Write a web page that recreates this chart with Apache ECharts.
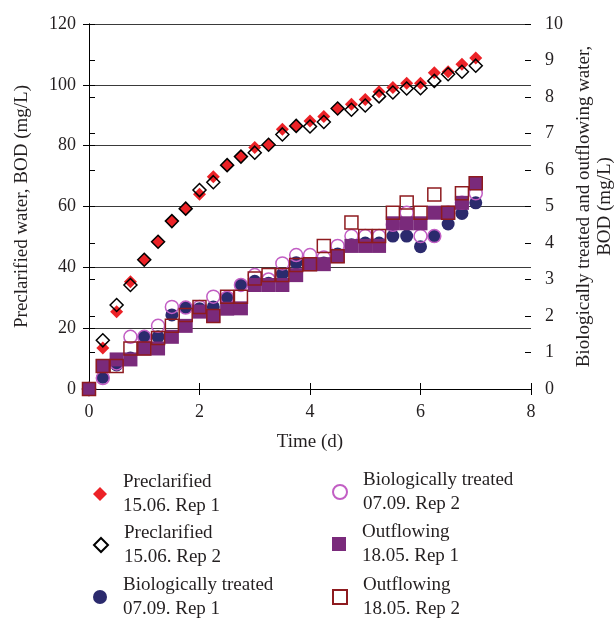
<!DOCTYPE html>
<html>
<head>
<meta charset="utf-8">
<title>BOD</title>
<script src="https://cdn.jsdelivr.net/npm/echarts@6/dist/echarts.min.js"></script>
<style>
	html,body{margin:0;padding:0;background:#fff;}
	#main{width:616px;height:619px;}
</style>
</head>
<body>
<div id="main"></div>
<script>
// time points (d)
var days = [0, 0.25, 0.5, 0.75, 1, 1.25, 1.5, 1.75, 2, 2.25, 2.5, 2.75, 3, 3.25, 3.5, 3.75, 4, 4.25, 4.5, 4.75, 5, 5.25, 5.5, 5.75, 6, 6.25, 6.5, 6.75, 7];

// preclarified water, left axis (mg/L)
var preRep1 = [0, 13.5, 25.4, 35.3, 42.5, 48.4, 55.2, 59.3, 64, 69.8, 73.6, 76.4, 79.4, 80.3, 85.4, 86.5, 88.1, 89.6, 92.2, 93.6, 95.2, 97.7, 99.1, 100.5, 100.5, 104, 104.3, 106.8, 108.8];
var preRep2 = [0, 16, 27.6, 34.2, 42.5, 48.4, 55.2, 59.3, 65.4, 68, 73.6, 76.4, 77.7, 80.3, 83.7, 86.5, 86.3, 87.8, 92.2, 91.8, 93.2, 96.2, 97.5, 98.8, 98.9, 101.3, 103.5, 104.3, 106.3];

// biologically treated and outflowing water, right axis (mg/L)
var bioRep1 = [0, 0.32, 0.66, 0.85, 1.43, 1.43, 2.03, 2.23, 2.2, 2.25, 2.5, 2.85, 2.95, 2.9, 3.15, 3.46, 3.42, 3.45, 3.7, 3.95, 4.0, 4.0, 4.19, 4.19, 3.9, 4.19, 4.52, 4.81, 5.1];
var bioRep2 = [0, 0.3, 0.7, 1.43, 1.43, 1.73, 2.25, 2.23, 2.25, 2.53, 2.5, 2.85, 3.12, 3.0, 3.44, 3.67, 3.67, 3.6, 3.92, 4.19, 4.19, 4.19, 4.5, 4.83, 4.19, 4.19, 4.83, 5.1, 5.36];
var outRep1 = [0, 0.63, 0.81, 0.81, 1.11, 1.11, 1.43, 1.73, 2.12, 2.0, 2.2, 2.21, 2.85, 2.85, 2.85, 3.12, 3.42, 3.42, 3.64, 3.92, 3.92, 3.92, 4.54, 4.54, 4.54, 4.83, 4.83, 5.1, 5.64];
var outRep2 = [0, 0.63, 0.63, 1.11, 1.11, 1.4, 1.73, 2.03, 2.25, 2.0, 2.53, 2.53, 3.03, 3.12, 3.12, 3.4, 3.42, 3.92, 3.64, 4.56, 4.19, 4.19, 4.83, 5.11, 4.83, 5.33, 4.83, 5.36, 5.64];

// legend names
var names = ['Preclarified 15.06. Rep 1', 'Preclarified 15.06. Rep 2', 'Biologically treated 07.09. Rep 1',
	'Biologically treated 07.09. Rep 2', 'Outflowing 18.05. Rep 1', 'Outflowing 18.05. Rep 2'];

var FONT = 'Liberation Serif';
var TXT = '#231f20';

function pairs(vals){
	var out = [];
	for (var i = 0; i < days.length; i++) {
		out.push([days[i], vals[i]]);
	}
	return out;
}

function legendAt(name, left, top){
	return {
		data: [name],
		left: left,
		top: top,
		itemWidth: 14,
		itemHeight: 14,
		selectedMode: false,
		formatter: function(n){ return n.replace(/ (\d\d\.\d\d\.)/, '\n$1'); },
		textStyle: {fontFamily: FONT, fontSize: 19, color: TXT, lineHeight: 24, padding: [0, 0, 0, 11]}
	};
}

function e_chart(){
	var myChart = echarts.init(document.getElementById('main'));
	var tickStyle = {color: '#000', width: 1};
	var option = {
		animation: false,
		backgroundColor: '#fff',
		grid: {left: 89, right: 85, top: 24, bottom: 230, outerBoundsMode: 'none', containLabel: false},
		legend: [
			legendAt(names[0], 88, 465),
			legendAt(names[1], 88, 516),
			legendAt(names[2], 88, 568),
			legendAt(names[3], 327, 463),
			legendAt(names[4], 327, 515),
			legendAt(names[5], 327, 568)
		],
		xAxis: [{
			type: 'value', min: 0, max: 8, interval: 2,
			name: 'Time (d)', nameLocation: 'middle', nameGap: 44,
			nameTextStyle: {fontFamily: FONT, fontSize: 19, color: TXT},
			axisLine: {show: true, lineStyle: {color: '#000'}},
			axisTick: {show: true, length: 6, lineStyle: tickStyle},
			axisLabel: {fontFamily: FONT, fontSize: 18, color: TXT, margin: 14},
			splitLine: {show: false}
		}, {
			// inner half of the x ticks
			type: 'value', min: 0, max: 8, interval: 2, position: 'bottom',
			axisLine: {show: false},
			axisTick: {show: true, inside: true, length: 6, lineStyle: tickStyle},
			axisLabel: {show: false},
			splitLine: {show: false}
		}],
		yAxis: [{
			type: 'value', min: 0, max: 120, interval: 20, position: 'left',
			name: 'Preclarified water, BOD (mg/L)', nameLocation: 'middle', nameGap: 57,
			nameTextStyle: {fontFamily: FONT, fontSize: 19, color: TXT},
			axisLine: {show: true, lineStyle: {color: '#000'}},
			axisTick: {show: true, length: 6, lineStyle: tickStyle},
			axisLabel: {fontFamily: FONT, fontSize: 18, color: TXT, margin: 13},
			splitLine: {show: true, lineStyle: {color: '#3a3a3a', width: 1}}
		}, {
			type: 'value', min: 0, max: 10, interval: 1, position: 'right',
			name: 'Biologically treated and outflowing water,\nBOD (mg/L)', nameLocation: 'middle', nameGap: 42,
			nameRotate: 90,
			nameTextStyle: {fontFamily: FONT, fontSize: 19, color: TXT, lineHeight: 21},
			axisLine: {show: true, lineStyle: {color: '#000'}},
			axisTick: {show: true, length: 6, lineStyle: tickStyle},
			axisLabel: {fontFamily: FONT, fontSize: 18, color: TXT, margin: 14},
			splitLine: {show: false}
		}, {
			type: 'value', min: 0, max: 120, interval: 20, position: 'left',
			axisLine: {show: false},
			axisTick: {show: true, inside: true, length: 6, lineStyle: tickStyle},
			axisLabel: {show: false},
			splitLine: {show: false}
		}, {
			type: 'value', min: 0, max: 10, interval: 1, position: 'right',
			axisLine: {show: false},
			axisTick: {show: true, inside: true, length: 6, lineStyle: tickStyle},
			axisLabel: {show: false},
			splitLine: {show: false}
		}],
		series: [{
			name: names[0], type: 'scatter', yAxisIndex: 0,
			symbol: 'diamond', symbolSize: 13,
			itemStyle: {color: '#ec2227', opacity: 1},
			data: pairs(preRep1)
		}, {
			name: names[1], type: 'scatter', yAxisIndex: 0,
			symbol: 'diamond', symbolSize: 13,
			itemStyle: {color: 'rgba(255,255,255,0)', borderColor: '#000', borderWidth: 1.5, opacity: 1},
			data: pairs(preRep2)
		}, {
			name: names[2], type: 'scatter', yAxisIndex: 1,
			symbol: 'circle', symbolSize: 13,
			itemStyle: {color: '#2b2a6d', opacity: 1},
			data: pairs(bioRep1)
		}, {
			name: names[3], type: 'scatter', yAxisIndex: 1,
			symbol: 'circle', symbolSize: 13,
			itemStyle: {color: 'rgba(255,255,255,0)', borderColor: '#c25ec4', borderWidth: 1.5, opacity: 1},
			data: pairs(bioRep2)
		}, {
			name: names[4], type: 'scatter', yAxisIndex: 1,
			symbol: 'rect', symbolSize: 14,
			itemStyle: {color: '#7a2a7b', opacity: 1},
			data: pairs(outRep1)
		}, {
			name: names[5], type: 'scatter', yAxisIndex: 1,
			symbol: 'rect', symbolSize: 13,
			itemStyle: {color: 'rgba(255,255,255,0)', borderColor: '#8e1b1f', borderWidth: 1.5, opacity: 1},
			data: pairs(outRep2)
		}]
	};
	myChart.setOption(option);
}

e_chart();
</script>
</body>
</html>
